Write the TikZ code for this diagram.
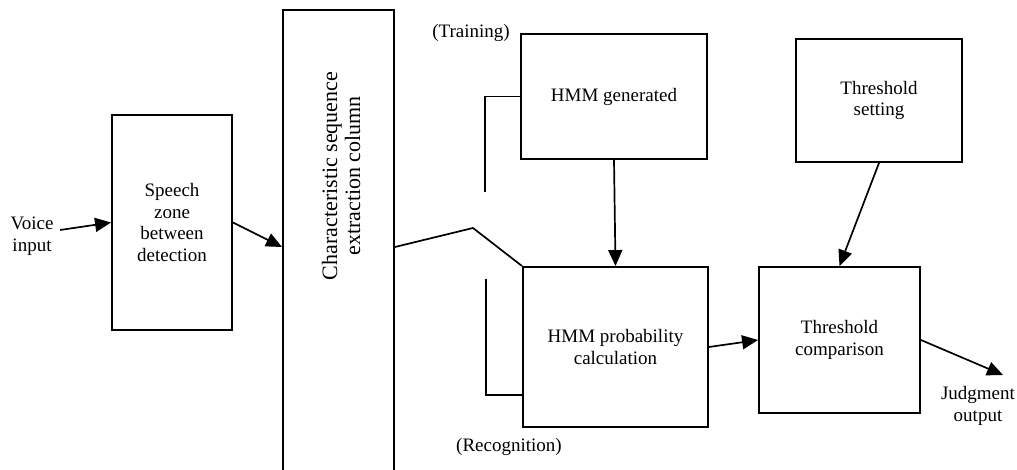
\documentclass[tikz,border=0pt]{standalone}
\usepackage{fontspec}
\setmainfont{LiberationSerif}[Extension=.ttf,UprightFont=*-Regular,
  BoldFont=*-Bold,ItalicFont=*-Italic,BoldItalicFont=*-BoldItalic]
\usetikzlibrary{arrows.meta,calc}

\begin{document}
\begin{tikzpicture}[x=1pt,y=1pt,
  box/.style={draw,line width=1.9pt,rectangle,inner sep=0pt,align=center,
    font=\fontsize{19}{21.5}\selectfont},
  txt/.style={inner sep=0pt,align=center,font=\fontsize{19}{21.5}\selectfont},
  wire/.style={line width=1.7pt},
  arr/.style={line width=1.7pt,-{Triangle[length=16pt,width=14pt]}}]

\useasboundingbox (0,0) rectangle (1017,-470);

% processing blocks
\node[box,minimum width=120pt,minimum height=215pt] (speech) at (172,-222.5)
  {Speech\\zone\\between\\detection};
\node[box,minimum width=111pt,minimum height=480pt] (char) at (338.5,-250) {};
\node[txt,rotate=90,font=\fontsize{22}{23}\selectfont] (chartext) at (341,-176)
  {Characteristic sequence\\extraction column};
\node[box,minimum width=186pt,minimum height=125pt] (hmmgen) at (614,-96.5) {HMM generated};
\node[box,minimum width=185pt,minimum height=160pt] (hmmprob) at (615.5,-347)
  {HMM probability\\calculation};
\node[box,minimum width=166pt,minimum height=123pt] (thset) at (879,-100.5)
  {Threshold\\setting};
\node[box,minimum width=161pt,minimum height=146pt] (thcmp) at (839.5,-340)
  {Threshold\\comparison};

% free labels
\node[txt] (voice) at (32,-236) {Voice\\input};
\node[txt] (judge) at (978,-406) {Judgment\\output};
\node[txt] (train) at (471,-33) {(Training)};
\node[txt] (recog) at (509,-447) {(Recognition)};

% helper points
\coordinate (vin) at (60,-230);
\coordinate (pivot) at (473,-228);
\coordinate (trainend) at (485,-192);
\coordinate (recstart) at (486,-279);
\coordinate (recbend) at (486,-395);
\coordinate (out) at (1003,-375);

% signal path
\draw[arr] (vin) -- (speech.west);
\draw[arr] (speech.east) -- ([yshift=3pt]char.west);
\draw[wire] ([yshift=3pt]char.east) -- (pivot) -- (hmmprob.north west);
\draw[wire] (hmmgen.west) -| (trainend);
\draw[wire] (recstart) -- (recbend) -- (recbend -| hmmprob.west);
\draw[arr] (hmmgen.south) -- (hmmprob.north);
\draw[arr] (thset.south) -- (thcmp.north);
\draw[arr] (hmmprob.east) -- (thcmp.west);
\draw[arr] (thcmp.east) -- (out);
\end{tikzpicture}
\end{document}
